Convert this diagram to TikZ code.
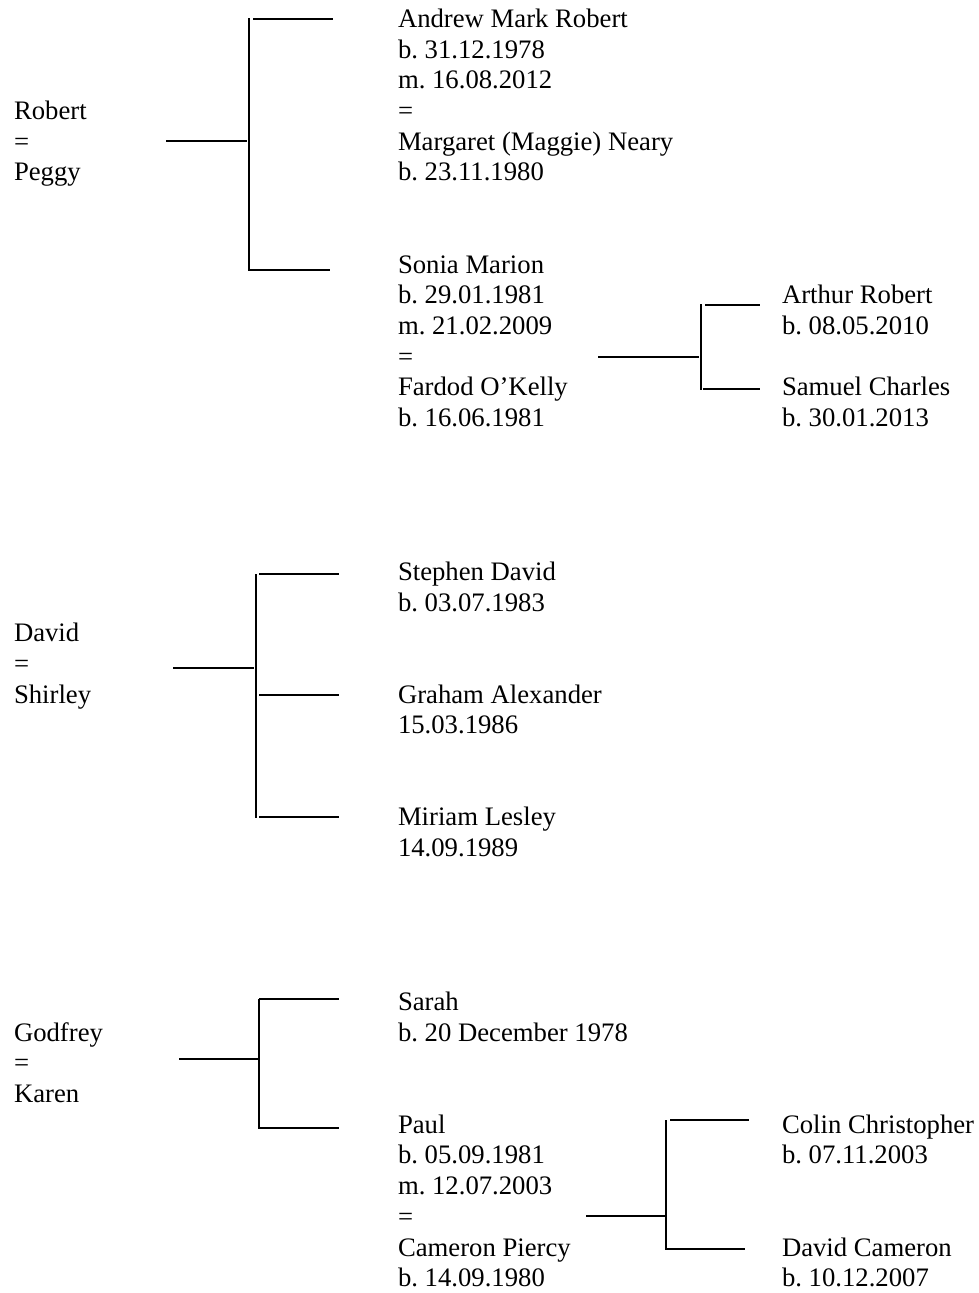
\documentclass[tikz,border=0pt]{standalone}
\usepackage{fontspec}
\setmainfont{Liberation Serif}
\frenchspacing

\begin{document}
\begin{tikzpicture}[x=1pt, y=-1pt, line width=2pt,
                    person/.style={anchor=base west, inner sep=0pt, align=left,
                                   font=\fontsize{26.7}{30.72}\selectfont}]

  \useasboundingbox (0,0) rectangle (978,1293);

  % Robert = Peggy (nodes sit on the baseline of their last line)
  \node[person] (robert) at (13, 180.9) {Robert\\=\\Peggy};
  \node[person] (andrew) at (397, 180.9) {Andrew Mark Robert\\b. 31.12.1978\\m. 16.08.2012\\=\\Margaret (Maggie) Neary\\b. 23.11.1980};
  \node[person] (sonia) at (397, 426.7) {Sonia Marion\\b. 29.01.1981\\m. 21.02.2009\\=\\Fardod O’Kelly\\b. 16.06.1981};
  \node[person] (arthur) at (781, 334.5) {Arthur Robert\\b. 08.05.2010};
  \node[person] (samuel) at (781, 426.6) {Samuel Charles\\b. 30.01.2013};

  % David = Shirley
  \node[person] (david) at (13, 703.1) {David\\=\\Shirley};
  \node[person] (stephen) at (397, 611.0) {Stephen David\\b. 03.07.1983};
  \node[person] (graham) at (397, 733.8) {Graham Alexander\\15.03.1986};
  \node[person] (miriam) at (397, 856.7) {Miriam Lesley\\14.09.1989};

  % Godfrey = Karen
  \node[person] (godfrey) at (13, 1102.5) {Godfrey\\=\\Karen};
  \node[person] (sarah) at (397, 1041.0) {Sarah\\b. 20 December 1978};
  \node[person] (paul) at (397, 1286.8) {Paul\\b. 05.09.1981\\m. 12.07.2003\\=\\Cameron Piercy\\b. 14.09.1980};
  \node[person] (colin) at (781, 1163.9) {Colin Christopher\\b. 07.11.2003};
  \node[person] (davidc) at (781, 1286.8) {David Cameron\\b. 10.12.2007};

  % fork ends
  \coordinate (robert-out) at (166, 141);  \coordinate (robert-fork) at (247, 141);
  \coordinate (robert-top) at (249, 18);   \coordinate (robert-bot) at (249, 271);
  \coordinate (andrew-in) at (333, 19);    \coordinate (andrew-out) at (253, 19);
  \coordinate (sonia-in) at (330, 270);    \coordinate (sonia-out) at (249, 270);

  \coordinate (sonia-line) at (598, 357);  \coordinate (sonia-fork) at (699, 357);
  \coordinate (sonia-top) at (701, 304);   \coordinate (sonia-bot) at (701, 390);
  \coordinate (arthur-out) at (705, 305);  \coordinate (arthur-in) at (760, 305);
  \coordinate (samuel-out) at (703, 389);  \coordinate (samuel-in) at (760, 389);

  \coordinate (david-out) at (173, 668);   \coordinate (david-fork) at (254, 668);
  \coordinate (david-top) at (256, 574);   \coordinate (david-bot) at (256, 818);
  \coordinate (stephen-out) at (259, 574); \coordinate (stephen-in) at (339, 574);
  \coordinate (graham-out) at (259, 695);  \coordinate (graham-in) at (339, 695);
  \coordinate (miriam-out) at (259, 817);  \coordinate (miriam-in) at (339, 817);

  \coordinate (godfrey-out) at (179, 1059); \coordinate (godfrey-fork) at (258, 1059);
  \coordinate (godfrey-top) at (259, 999);  \coordinate (godfrey-bot) at (259, 1129);
  \coordinate (sarah-out) at (259, 999);    \coordinate (sarah-in) at (339, 999);
  \coordinate (paul-out) at (259, 1128);    \coordinate (paul-in) at (339, 1128);

  \coordinate (paul-line) at (586, 1216);   \coordinate (paul-fork) at (665, 1216);
  \coordinate (paul-top) at (666, 1120);    \coordinate (paul-bot) at (666, 1250);
  \coordinate (colin-out) at (670, 1120);   \coordinate (colin-in) at (749, 1120);
  \coordinate (davidc-out) at (666, 1249);  \coordinate (davidc-in) at (745, 1249);

  \draw (robert-out) -- (robert-fork);
  \draw (robert-top) -- (robert-bot);
  \draw (andrew-out) -- (andrew-in);
  \draw (sonia-out) -- (sonia-in);

  \draw (sonia-line) -- (sonia-fork);
  \draw (sonia-top) -- (sonia-bot);
  \draw (arthur-out) -- (arthur-in);
  \draw (samuel-out) -- (samuel-in);

  \draw (david-out) -- (david-fork);
  \draw (david-top) -- (david-bot);
  \draw (stephen-out) -- (stephen-in);
  \draw (graham-out) -- (graham-in);
  \draw (miriam-out) -- (miriam-in);

  \draw (godfrey-out) -- (godfrey-fork);
  \draw (godfrey-top) -- (godfrey-bot);
  \draw (sarah-out) -- (sarah-in);
  \draw (paul-out) -- (paul-in);

  \draw (paul-line) -- (paul-fork);
  \draw (paul-top) -- (paul-bot);
  \draw (colin-out) -- (colin-in);
  \draw (davidc-out) -- (davidc-in);

\end{tikzpicture}
\end{document}
